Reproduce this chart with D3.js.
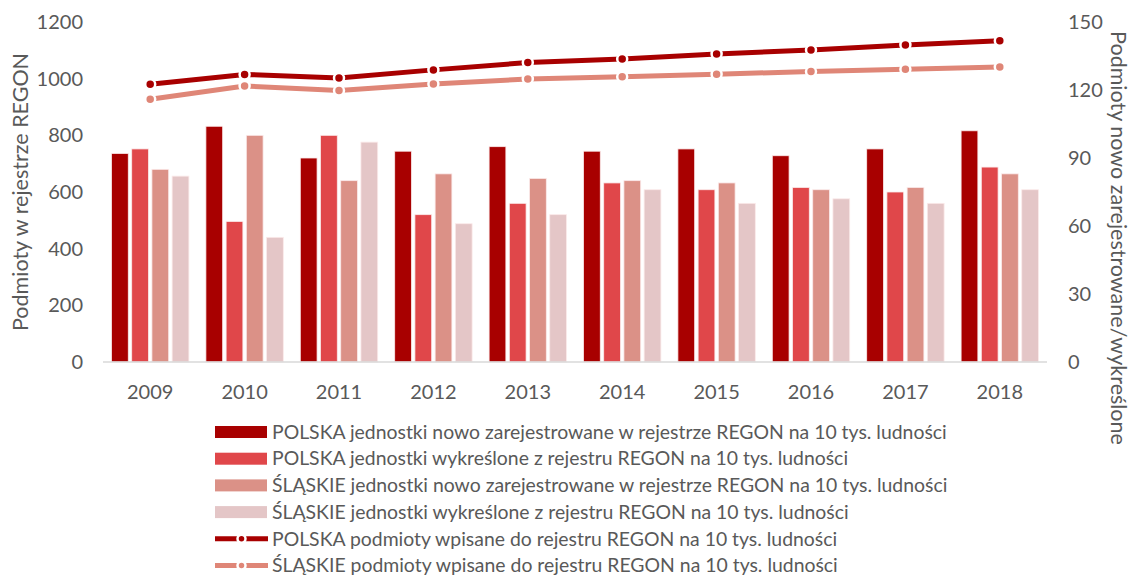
<!DOCTYPE html>
<html>
<head>
<meta charset="utf-8">
<script src="https://cdn.jsdelivr.net/npm/d3@7"></script>
<style>
  body { margin: 0; background: #fff; }
  svg text { font-family: Lato, "Open Sans", sans-serif; fill: #595959; }
</style>
</head>
<body>
<div id="chart"></div>
<script>
const years = ["2009", "2010", "2011", "2012", "2013", "2014", "2015", "2016", "2017", "2018"];

// bars: right axis (per 10k population)
const plNowe = [92, 104, 90, 93, 95, 93, 94, 91, 94, 102];
const plWykreslone = [94, 62, 100, 65, 70, 79, 76, 77, 75, 86];
const slNowe = [85, 100, 80, 83, 81, 80, 79, 76, 77, 83];
const slWykreslone = [82, 55, 97, 61, 65, 76, 70, 72, 70, 76];

// lines: left axis
const plWpisane = [980, 1015, 1002, 1031, 1057, 1069, 1087, 1101, 1119, 1134];
const slWpisane = [927, 974, 958, 981, 999, 1007, 1016, 1025, 1033, 1041];

const leftTicks = [0, 200, 400, 600, 800, 1000, 1200];
const rightTicks = [0, 30, 60, 90, 120, 150];

const barSeries = [
  { name: "POLSKA jednostki nowo zarejestrowane w rejestrze REGON na 10 tys. ludności", values: plNowe, color: "#a80000" },
  { name: "POLSKA jednostki wykreślone z rejestru REGON na 10 tys. ludności", values: plWykreslone, color: "#e0474a" },
  { name: "ŚLĄSKIE jednostki nowo zarejestrowane w rejestrze REGON na 10 tys. ludności", values: slNowe, color: "#db9187" },
  { name: "ŚLĄSKIE jednostki wykreślone z rejestru REGON na 10 tys. ludności", values: slWykreslone, color: "#e4c6c7" }
];
const lineSeries = [
  { name: "POLSKA podmioty wpisane do rejestru REGON na 10 tys. ludności", values: plWpisane, color: "#a80000" },
  { name: "ŚLĄSKIE podmioty wpisane do rejestru REGON na 10 tys. ludności", values: slWpisane, color: "#df8677" }
];

const width = 1132, height = 576;
const plot = { left: 103, right: 1047, top: 22, bottom: 362 };

const svg = d3.select("#chart").append("svg")
  .attr("width", width)
  .attr("height", height);

const x = d3.scaleBand().domain(years).range([plot.left, plot.right]);
const xInner = d3.scaleBand().domain(d3.range(barSeries.length))
  .range([8.5, x.bandwidth() - 8.5]).paddingInner(0.17);
const yLeft = d3.scaleLinear().domain([0, 1200]).range([plot.bottom, plot.top]);
const yRight = d3.scaleLinear().domain([0, 150]).range([plot.bottom, plot.top]);

// bars
const groups = svg.append("g").selectAll("g")
  .data(years)
  .join("g")
  .attr("transform", d => `translate(${x(d)},0)`);

groups.selectAll("rect")
  .data((d, i) => barSeries.map((s, k) => ({ k: k, v: s.values[i], color: s.color })))
  .join("rect")
  .attr("x", d => xInner(d.k))
  .attr("width", xInner.bandwidth())
  .attr("y", d => yRight(d.v))
  .attr("height", d => plot.bottom - yRight(d.v))
  .attr("fill", d => d.color)
  .attr("stroke", "#fbeaea")
  .attr("stroke-width", 0.8);

// baseline
svg.append("line")
  .attr("x1", plot.left).attr("x2", plot.right)
  .attr("y1", plot.bottom).attr("y2", plot.bottom)
  .attr("stroke", "#d9d9d9").attr("stroke-width", 1.5);

// lines
const lineGen = d3.line()
  .x((d, i) => x(years[i]) + x.bandwidth() / 2)
  .y(d => yLeft(d));

for (const s of lineSeries) {
  svg.append("path")
    .attr("d", lineGen(s.values))
    .attr("fill", "none")
    .attr("stroke", s.color)
    .attr("stroke-width", 5);
  svg.append("g").selectAll("circle")
    .data(s.values)
    .join("circle")
    .attr("cx", (d, i) => x(years[i]) + x.bandwidth() / 2)
    .attr("cy", d => yLeft(d))
    .attr("r", 5)
    .attr("fill", s.color)
    .attr("stroke", "#fff")
    .attr("stroke-width", 2.5);
}

// axes
const axisL = svg.append("g")
  .attr("transform", `translate(${plot.left},0)`)
  .call(d3.axisLeft(yLeft).tickValues(leftTicks).tickFormat(d3.format("d")).tickSize(0).tickPadding(20));
const axisR = svg.append("g")
  .attr("transform", `translate(${plot.right},0)`)
  .call(d3.axisRight(yRight).tickValues(rightTicks).tickFormat(d3.format("d")).tickSize(0).tickPadding(21));
const axisB = svg.append("g")
  .attr("transform", `translate(0,${plot.bottom})`)
  .call(d3.axisBottom(x).tickSize(0).tickPadding(23));

for (const a of [axisL, axisR, axisB]) {
  a.select(".domain").remove();
  a.selectAll("text").style("font-size", "20px").attr("fill", "#595959");
}

// axis titles
svg.append("text")
  .attr("transform", "translate(28,192) rotate(-90)")
  .attr("text-anchor", "middle")
  .style("font-size", "21.5px")
  .text("Podmioty w rejestrze REGON");

svg.append("text")
  .attr("transform", "translate(1111,238) rotate(90)")
  .attr("text-anchor", "middle")
  .style("font-size", "21.5px")
  .text("Podmioty nowo zarejestrowane/wykreślone");

// legend
const legend = svg.append("g").attr("transform", "translate(215,432)");
const rowH = 26.7;

barSeries.forEach((s, i) => {
  const row = legend.append("g").attr("transform", `translate(0,${i * rowH})`);
  row.append("rect")
    .attr("x", 0).attr("y", -6)
    .attr("width", 52).attr("height", 12)
    .attr("fill", s.color);
  row.append("text")
    .attr("x", 57).attr("dy", "0.35em")
    .style("font-size", "19.4px")
    .text(s.name);
});

lineSeries.forEach((s, i) => {
  const row = legend.append("g").attr("transform", `translate(0,${(i + 4) * rowH})`);
  row.append("line")
    .attr("x1", 0).attr("x2", 53)
    .attr("stroke", s.color).attr("stroke-width", 5);
  row.append("circle")
    .attr("cx", 26.5).attr("r", 4)
    .attr("fill", s.color)
    .attr("stroke", "#fff").attr("stroke-width", 2.5);
  row.append("text")
    .attr("x", 57).attr("dy", "0.35em")
    .style("font-size", "19.4px")
    .text(s.name);
});
</script>
</body>
</html>
